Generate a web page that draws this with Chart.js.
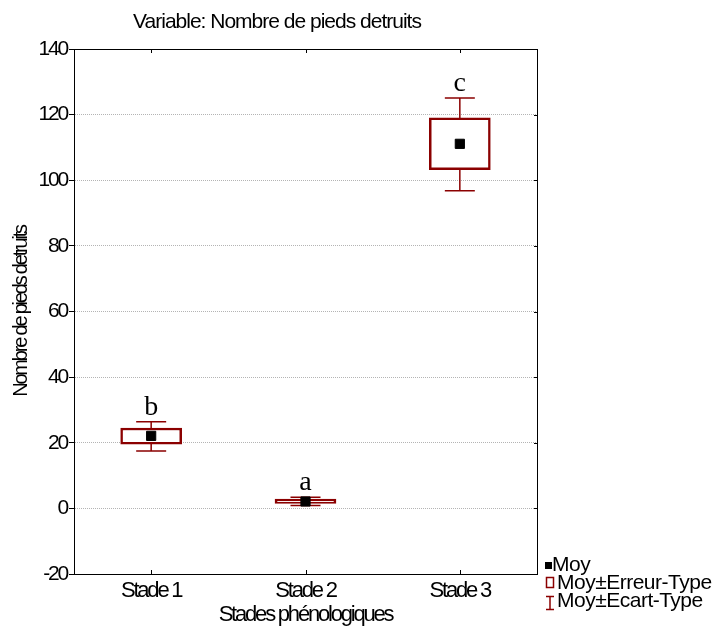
<!DOCTYPE html>
<html>
<head>
<meta charset="utf-8">
<script src="https://cdn.jsdelivr.net/npm/chart.js@4/dist/chart.umd.min.js"></script>
<style>
  html, body { margin: 0; padding: 0; background: #fff; }
  #wrap { width: 715px; height: 633px; }
</style>
</head>
<body>
<div id="wrap"><canvas id="chart" width="715" height="633"></canvas></div>
<script>
// valeurs
const stades = ['Stade 1', 'Stade 2', 'Stade 3'];
const moyennes = [22.1, 2.1, 111.1];
const erreurBas = [19.6, 1.5, 103.2];
const erreurHaut = [24.5, 2.8, 119.0];
const ecartBas = [17.5, 0.9, 96.8];
const ecartHaut = [26.4, 3.4, 125.1];
const lettres = ['b', 'a', 'c'];
const yMin = -20;
const yMax = 140;
const yPas = 20;

const rouge = '#8b0000';
const police = 'Liberation Sans, Arial, sans-serif';

// espacement serré des lettres, comme dans Statistica
const serrePlugin = {
    id: 'serre',
    beforeLayout(chart) { chart.ctx.letterSpacing = '-2.2px'; },
    beforeDraw(chart) { chart.ctx.letterSpacing = '-2.2px'; }
};

// moustaches (moy ± écart-type), dessinées derrière les boîtes
const moustachesPlugin = {
    id: 'moustaches',
    beforeDatasetsDraw(chart) {
        const ctx = chart.ctx;
        const x = chart.scales.x;
        const y = chart.scales.y;
        ctx.save();
        ctx.strokeStyle = rouge;
        ctx.lineWidth = 1.5;
        stades.forEach((s, i) => {
            const cx = x.getPixelForValue(i);
            const demi = 15;
            const haut = y.getPixelForValue(ecartHaut[i]);
            const bas = y.getPixelForValue(ecartBas[i]);
            ctx.beginPath();
            ctx.moveTo(cx, haut);
            ctx.lineTo(cx, y.getPixelForValue(erreurHaut[i]));
            ctx.moveTo(cx, bas);
            ctx.lineTo(cx, y.getPixelForValue(erreurBas[i]));
            ctx.moveTo(cx - demi, haut);
            ctx.lineTo(cx + demi, haut);
            ctx.moveTo(cx - demi, bas);
            ctx.lineTo(cx + demi, bas);
            ctx.stroke();
        });
        ctx.restore();
    }
};

// cadre, petites graduations intérieures, lettres, titre et légende
const decorPlugin = {
    id: 'decor',
    afterDraw(chart) {
        const ctx = chart.ctx;
        const a = chart.chartArea;
        const x = chart.scales.x;
        const y = chart.scales.y;
        ctx.save();
        ctx.strokeStyle = '#000';
        ctx.lineWidth = 1;
        ctx.setLineDash([]);
        ctx.strokeRect(a.left + 0.5, a.top + 0.5, a.right - a.left, a.bottom - a.top);

        ctx.beginPath();
        stades.forEach((s, i) => {
            const px = Math.round(x.getPixelForValue(i)) + 0.5;
            ctx.moveTo(px, a.top);
            ctx.lineTo(px, a.top + 4);
            ctx.moveTo(px, a.bottom);
            ctx.lineTo(px, a.bottom - 4);
        });
        y.ticks.forEach(t => {
            const py = Math.round(y.getPixelForValue(t.value)) + 0.5;
            ctx.moveTo(a.right, py);
            ctx.lineTo(a.right - 3, py);
        });
        ctx.stroke();

        // lettres de groupes
        ctx.letterSpacing = '0px';
        ctx.fillStyle = '#000';
        ctx.font = '28px "Liberation Serif", "Times New Roman", serif';
        ctx.textAlign = 'center';
        ctx.textBaseline = 'alphabetic';
        lettres.forEach((l, i) => {
            ctx.fillText(l, x.getPixelForValue(i), y.getPixelForValue(ecartHaut[i]) - 7);
        });

        // titre
        ctx.letterSpacing = '-1px';
        ctx.font = '21px ' + police;
        ctx.fillText('Variable: Nombre de pieds detruits', 277, 28);

        // légende
        ctx.textAlign = 'left';
        ctx.letterSpacing = '-0.5px';
        ctx.font = '21px ' + police;
        ctx.fillRect(545, 562, 7, 7);
        ctx.fillText('Moy', 552, 571);

        ctx.strokeStyle = rouge;
        ctx.lineWidth = 1.5;
        ctx.strokeRect(546.5, 577.5, 7, 10);
        ctx.fillText('Moy\u00b1Erreur-Type', 557, 589);

        ctx.beginPath();
        ctx.moveTo(546, 596.5);
        ctx.lineTo(554, 596.5);
        ctx.moveTo(550, 596.5);
        ctx.lineTo(550, 609.5);
        ctx.moveTo(546, 609.5);
        ctx.lineTo(554, 609.5);
        ctx.stroke();
        ctx.fillText('Moy\u00b1Ecart-Type', 557, 607);
        ctx.restore();
    }
};

const chart = new Chart(document.getElementById('chart'), {
    type: 'bar',
    data: {
        labels: stades,
        datasets: [
            {
                type: 'line',
                label: 'Moy',
                data: moyennes,
                showLine: false,
                pointStyle: 'rect',
                pointRadius: 6.5,
                pointBorderWidth: 1,
                pointBackgroundColor: '#000',
                pointBorderColor: '#000',
                order: 0
            },
            {
                label: 'Moy\u00b1Erreur-Type',
                data: erreurBas.map((v, i) => [v, erreurHaut[i]]),
                backgroundColor: '#fff',
                borderColor: rouge,
                borderWidth: 2.5,
                borderSkipped: false,
                barThickness: 61,
                order: 1
            }
        ]
    },
    options: {
        responsive: false,
        animation: false,
        layout: { padding: { left: 0, right: 178, top: 49, bottom: 0 } },
        plugins: {
            legend: { display: false },
            tooltip: { enabled: false }
        },
        scales: {
            x: {
                grid: { display: false, drawTicks: false },
                border: { display: true, color: '#000', width: 1 },
                ticks: { color: '#000', padding: 4, font: { family: police, size: 22 } },
                title: {
                    display: true,
                    text: 'Stades ph\u00e9nologiques',
                    color: '#000',
                    font: { family: police, size: 22 },
                    padding: { top: 0, bottom: 5 }
                },
                afterFit(scale) { scale.height = 59; }
            },
            y: {
                min: yMin,
                max: yMax,
                ticks: {
                    stepSize: yPas,
                    color: '#000',
                    padding: 2,
                    font: { family: police, size: 21 }
                },
                grid: {
                    color: '#b4b4b4',
                    tickColor: '#000',
                    tickLength: 5,
                    tickBorderDash: []
                },
                border: { display: true, color: '#000', width: 1, dash: [1, 1] },
                title: {
                    display: true,
                    text: 'Nombre de pieds detruits',
                    color: '#000',
                    font: { family: police, size: 20 },
                    padding: { top: 9, bottom: 0 }
                },
                afterFit(scale) { scale.width = 74; }
            }
        }
    },
    plugins: [serrePlugin, moustachesPlugin, decorPlugin]
});
</script>
</body>
</html>
